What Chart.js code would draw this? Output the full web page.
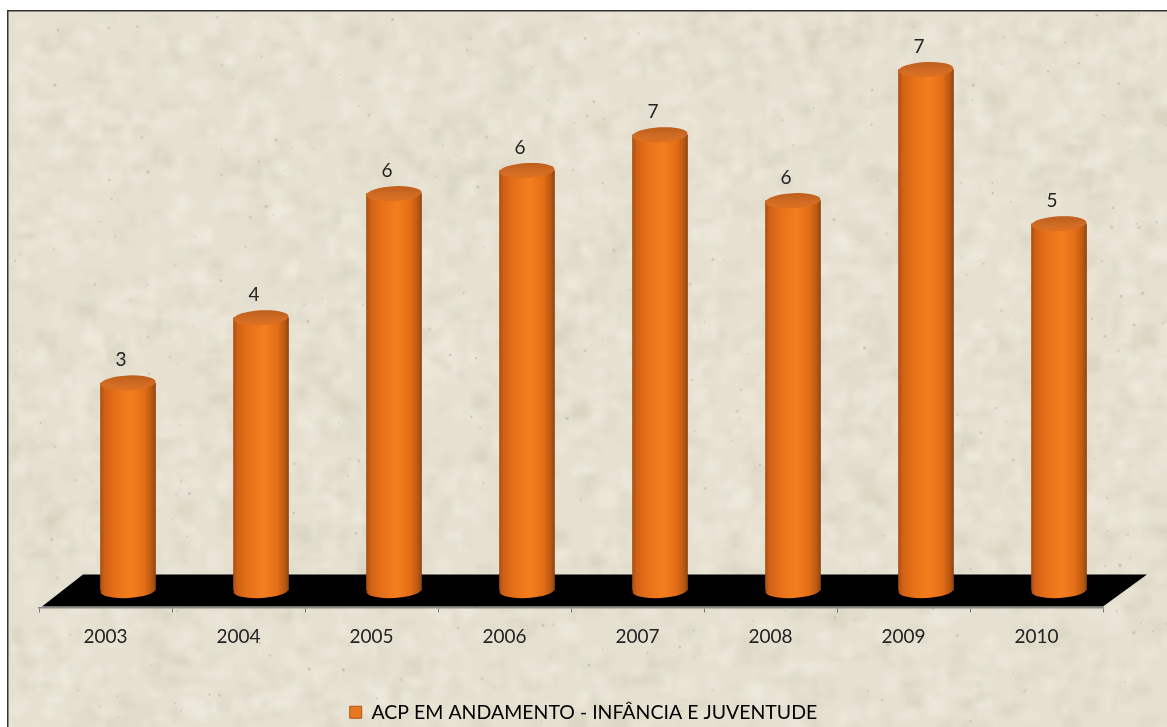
<!DOCTYPE html>
<html><head><meta charset="utf-8">
<style>html,body{margin:0;padding:0;background:#fff;overflow:hidden}#wrap{width:1167px;height:727px;position:relative}canvas{display:block}</style>
<script src="https://cdn.jsdelivr.net/npm/chart.js@4/dist/chart.umd.min.js"></script>
</head><body><div id="wrap"><canvas id="c" width="1167" height="727"></canvas></div>
<script>
const categories = ['2003','2004','2005','2006','2007','2008','2009','2010'];
const seriesName = 'ACP EM ANDAMENTO - INFÂNCIA E JUVENTUDE';
const barHeights = [2.96, 3.89, 5.66, 5.99, 6.50, 5.56, 7.43, 5.23];
const valueLabels = ['3','4','6','6','7','6','7','5'];
const FONT = 'Lato, "Open Sans", sans-serif';
const DX = 22.5, DY = -17;
const BAR_W = 55;

function bodyGradient(ctx, cx, w) {
  const g = ctx.createLinearGradient(cx - w/2, 0, cx + w/2, 0);
  g.addColorStop(0, '#a9500f');
  g.addColorStop(0.07, '#cf6016');
  g.addColorStop(0.25, '#e56f18');
  g.addColorStop(0.55, '#f47e1e');
  g.addColorStop(0.80, '#e26d17');
  g.addColorStop(0.94, '#b85812');
  g.addColorStop(1, '#8e4410');
  return g;
}

const paper = {
  id: 'paper',
  beforeDraw(chart) {
    const ctx = chart.ctx;
    const L = 7, T = 10, W = chart.width - L, H = chart.height - T;
    ctx.save();
    ctx.fillStyle = '#e6e0d1';
    ctx.fillRect(L, T, W, H);
    let s = 12345;
    const rnd = () => (s = (s * 1103515245 + 12345) & 0x7fffffff) / 0x7fffffff;
    const off = document.createElement('canvas');
    off.width = Math.ceil(W / 5); off.height = Math.ceil(H / 5);
    const o = off.getContext('2d');
    for (let i = 0; i < 4000; i++) {
      const v = rnd();
      o.fillStyle = v < .5 ? 'rgba(210,203,186,0.24)' : 'rgba(241,237,226,0.3)';
      o.fillRect(rnd() * off.width, rnd() * off.height, 1 + rnd() * 3, 1 + rnd() * 3);
    }
    ctx.imageSmoothingEnabled = true;
    ctx.imageSmoothingQuality = 'high';
    ctx.drawImage(off, L, T, W, H);
    for (let i = 0; i < 340; i++) {
      const x = L + rnd() * W, y = T + rnd() * H, r = .7 + rnd() * 1.1;
      ctx.fillStyle = `rgba(160,155,140,${.15 + rnd() * .28})`;
      ctx.beginPath(); ctx.arc(x, y, r, 0, 7); ctx.fill();
    }
    ctx.fillStyle = '#333';
    ctx.fillRect(L, T, W, 1.5);
    ctx.fillRect(L, T, 1.5, H);
    ctx.restore();
  },
  beforeDatasetsDraw(chart) {
    const ctx = chart.ctx, a = chart.chartArea;
    ctx.save();
    ctx.fillStyle = '#000';
    ctx.beginPath();
    ctx.moveTo(a.left + 3, a.bottom - 1);
    ctx.lineTo(a.left + 44, a.bottom - 33);
    ctx.lineTo(a.right + 44, a.bottom - 33);
    ctx.lineTo(a.right, a.bottom - 1);
    ctx.closePath();
    ctx.fill();
    ctx.restore();
    ctx.save();
    ctx.translate(DX, DY);
  },
  afterDatasetsDraw(chart) {
    const ctx = chart.ctx;
    const els = chart.getDatasetMeta(0).data;
    els.forEach((el, i) => {
      const rx = el.width / 2, ry = 7.5, rot = -3 * Math.PI / 180;
      ctx.fillStyle = bodyGradient(ctx, el.x, el.width);
      ctx.beginPath();
      ctx.ellipse(el.x, el.base, rx, ry, rot, 0, Math.PI * 2);
      ctx.fill();
      const g = ctx.createLinearGradient(0, el.y - ry, 0, el.y + ry);
      g.addColorStop(0, '#bd5e1c');
      g.addColorStop(0.6, '#d16c24');
      g.addColorStop(1, '#de701f');
      ctx.fillStyle = g;
      ctx.beginPath();
      ctx.ellipse(el.x, el.y, rx, ry, rot, 0, Math.PI * 2);
      ctx.fill();
      ctx.fillStyle = '#222';
      ctx.font = '19px ' + FONT;
      ctx.textAlign = 'center';
      ctx.textBaseline = 'middle';
      ctx.fillText(valueLabels[i], el.x - 7, el.y - 23);
    });
    ctx.restore();
  }
};

new Chart(document.getElementById('c').getContext('2d'), {
  type: 'bar',
  data: {
    labels: categories,
    datasets: [{
      label: seriesName,
      data: barHeights,
      barThickness: BAR_W,
      backgroundColor(c) {
        const xs = c.chart.scales.x;
        if (!xs || c.dataIndex === undefined) return '#e8761c';
        return bodyGradient(c.chart.ctx, xs.getPixelForValue(c.dataIndex), BAR_W);
      }
    }]
  },
  plugins: [paper],
  options: {
    responsive: false,
    animation: false,
    layout: { padding: { left: 0, right: 0, top: 20, bottom: -5 } },
    plugins: {
      tooltip: { enabled: false },
      legend: {
        position: 'bottom',
        labels: {
          boxWidth: 12, boxHeight: 12, padding: 1, color: '#222',
          font: { family: FONT, size: 19.5 },
          generateLabels() {
            return [{ text: seriesName, fillStyle: '#e8761c', strokeStyle: '#a85a1a', lineWidth: 1, datasetIndex: 0 }];
          }
        }
      }
    },
    scales: {
      x: {
        type: 'category',
        grid: { offset: true, drawOnChartArea: false, drawTicks: true, tickLength: 5, color: '#777' },
        border: { display: true, color: '#8a8a85', width: 1.5 },
        ticks: { color: '#222', padding: 13, font: { family: FONT, size: 19 }, maxRotation: 0 },
        afterFit(s) { s.height = 94; }
      },
      y: {
        min: 0, max: 8.38,
        grid: { display: false }, border: { display: false },
        ticks: { display: false },
        afterFit(s) { s.width = 39; }
      },
      yR: {
        position: 'right',
        grid: { display: false }, border: { display: false },
        ticks: { display: false },
        afterFit(s) { s.width = 64; }
      }
    }
  }
});
</script></body></html>
